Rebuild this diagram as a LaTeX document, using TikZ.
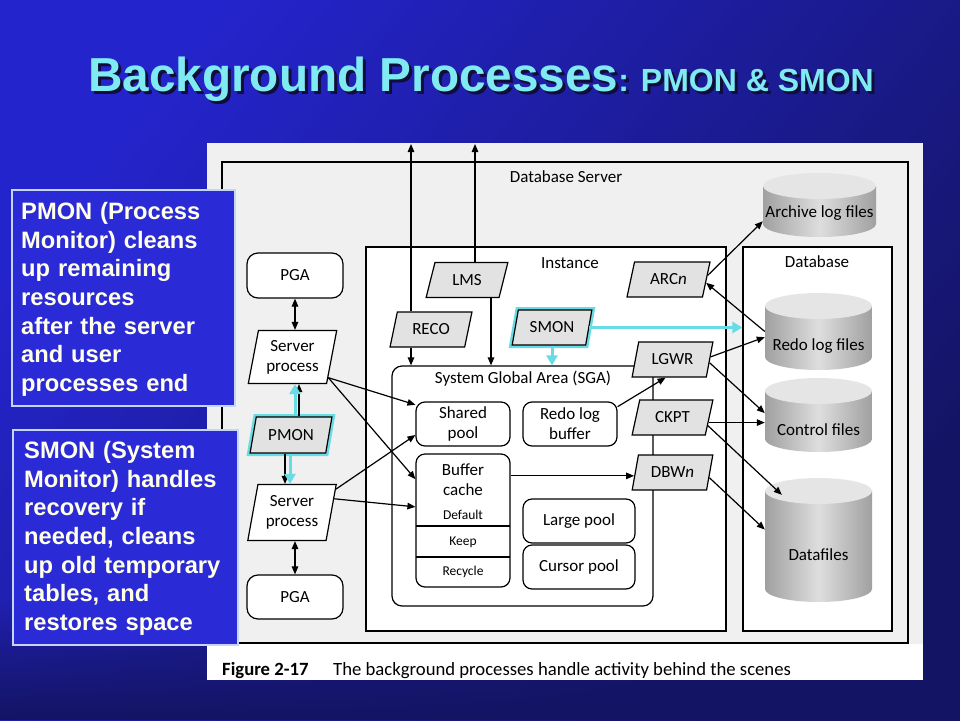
\documentclass[tikz,border=0pt]{standalone}
\usepackage{fontspec}
\setmainfont{Liberation Sans}
\newfontfamily\diag{Carlito}
\usetikzlibrary{shapes.geometric,arrows.meta,calc,fadings}
\definecolor{bgA}{RGB}{36,36,204}
\definecolor{bgB}{RGB}{20,20,100}
\definecolor{boxblue}{RGB}{42,42,214}
\definecolor{boxedge}{RGB}{196,212,250}
\definecolor{cream}{RGB}{255,255,232}
\definecolor{titlecyan}{RGB}{128,234,242}
\definecolor{tshadow}{RGB}{14,14,56}
\definecolor{hl}{RGB}{104,220,228}
\definecolor{panelgray}{RGB}{240,240,240}
\definecolor{procgray}{RGB}{226,226,226}
\definecolor{cylside}{RGB}{160,160,160}
\definecolor{cylmid}{RGB}{222,222,222}
\definecolor{cyltop}{RGB}{229,229,229}
\newcommand{\titletext}{Background Processes{\fontsize{32}{34}\selectfont: PMON \& SMON}}
\tikzset{
  ln/.style={line width=1.2pt, draw=black},
  arr/.style={ln, -{Triangle[length=8pt,width=6.5pt]}},
  dblarr/.style={ln, {Triangle[length=8pt,width=6.5pt]}-{Triangle[length=8pt,width=6.5pt]}},
  hlarr/.style={line width=3pt, draw=hl, -{Triangle[length=10pt,width=11pt]}},
  dfont/.style={font=\diag\fontsize{17}{20}\selectfont},
  proc/.style={trapezium, trapezium left angle=70, trapezium right angle=110, trapezium stretches=true, draw, line width=1.2pt, fill=procgray, minimum width=82pt, minimum height=35pt, inner sep=0pt, dfont},
  srv/.style={proc, fill=white, trapezium left angle=77, trapezium right angle=103, minimum width=89pt, minimum height=53pt, align=center},
  hlproc/.style={proc, preaction={draw=hl, line width=6pt}},
  mem/.style={rectangle, rounded corners=9pt, draw, line width=1.2pt, fill=white, dfont, align=center, inner sep=0pt, minimum width=94pt, minimum height=44pt},
  region/.style={rectangle, draw, line width=1.2pt, fill=white, inner sep=0pt},
  lbl/.style={dfont, inner sep=0pt, align=center},
  anch/.style={rectangle, inner sep=0pt, draw=none},
  infobox/.style={rectangle, draw=boxedge, line width=2pt, fill=boxblue, inner sep=0pt},
  infotext/.style={anchor=north west, inner sep=0pt, text=cream, text width=215pt, align=left, font=\bfseries\fontsize{23.7}{28.7}\selectfont},
  titlefont/.style={anchor=base west, inner sep=0pt, font=\bfseries\fontsize{47.7}{50}\selectfont},
}
\begin{document}
\begin{tikzpicture}[x=1pt,y=-1pt]
\useasboundingbox (0,0) rectangle (960,720);
% background
\shade[top color=bgA, bottom color=bgB, shading angle=50] (0,0) rectangle (960,720);
\fill[bgB, path fading=north] (0,600) rectangle (960,720);
% title with drop shadow (one node)
\node[titlefont, text=titlecyan] (title) at (88,91) {\rlap{\hspace{3pt}\raisebox{-3pt}{\color{tshadow}\titletext}}\titletext};
% panel
\fill[white] (207,143) rectangle (923,680);
\fill[panelgray] (207,143) rectangle (923,644);
\node[region, fill=panelgray, minimum width=686pt, minimum height=481pt] (srvbox) at (565,402.5) {};
\node[lbl] (srvlbl) at (566,177) {Database Server};
\node[region, minimum width=360pt, minimum height=384pt] (inst) at (546,439) {};
\node[lbl] (instlbl) at (570,263) {Instance};
\node[region, minimum width=149pt, minimum height=384pt] (dbx) at (817.5,439) {};
\node[lbl] (dblbl) at (817,262) {Database};
\node[region, rounded corners=10pt, minimum width=261pt, minimum height=240pt] (sga) at (522.5,486) {};
\node[lbl] (sgalbl) at (523,379) {System Global Area (SGA)};
% memory structures
\node[mem] (shp) at (463,424) {Shared\\pool};
\node[mem] (rlb) at (570,424) {Redo log\\buffer};
\node[mem, minimum height=133pt] (bc) at (463,520.5) {};
\draw[ln] (416,526) -- (510,526);
\draw[ln] (416,557) -- (510,557);
\node[lbl] (bct) at (463,480) {Buffer\\cache};
\node[lbl, font=\diag\fontsize{13.5}{15}\selectfont] (bcd) at (463,515) {Default};
\node[lbl, font=\diag\fontsize{13.5}{15}\selectfont] (bck) at (463,542) {Keep};
\node[lbl, font=\diag\fontsize{13.5}{15}\selectfont] (bcr) at (463,572) {Recycle};
\node[mem, minimum width=112pt] (lp) at (579,521) {Large pool};
\node[mem, minimum width=112pt] (cp) at (579,567) {Cursor pool};
% processes
\node[proc] (lms) at (467,280) {LMS};
\node[proc] (reco) at (431,329.5) {RECO};
\node[hlproc, minimum width=80pt] (smon) at (552,327.5) {SMON};
\node[proc, minimum width=83pt] (arcn) at (668.5,279.5) {ARC\textit{n}};
\node[proc, minimum width=81pt] (lgwr) at (672.5,359.5) {LGWR};
\node[proc, minimum width=81pt] (ckpt) at (672.5,417.5) {CKPT};
\node[proc, minimum width=81pt] (dbwn) at (672.5,472.5) {DBW\textit{n}};
\node[srv] (sp1) at (292.5,357) {Server\\process};
\node[srv, minimum height=56pt] (sp2) at (292,512.5) {Server\\process};
\node[hlproc, minimum width=82pt, minimum height=36pt] (pmon) at (291,435) {PMON};
\node[mem, minimum width=96pt, minimum height=45pt, rounded corners=11pt] (pga1) at (295,275.5) {PGA};
\node[mem, minimum width=96pt, minimum height=44pt, rounded corners=11pt] (pga2) at (295,597) {PGA};
% cylinders
\shade[left color=cylside, right color=cylside, middle color=cylmid] (763,186) -- (763,224) arc[start angle=180,end angle=360,x radius=56.5pt,y radius=13pt] -- (876,186) -- cycle;
\fill[cyltop] (819.5,186) ellipse[x radius=56.5pt,y radius=13pt];
\node[anch, minimum width=113pt, minimum height=64pt] (arch) at (819.5,205) {};
\node[lbl] (archt) at (819.5,213) {Archive log files};
\shade[left color=cylside, right color=cylside, middle color=cylmid] (765,306) -- (765,357) arc[start angle=180,end angle=360,x radius=53.5pt,y radius=13pt] -- (872,306) -- cycle;
\fill[cyltop] (818.5,306) ellipse[x radius=53.5pt,y radius=13pt];
\node[anch, minimum width=107pt, minimum height=77pt] (redo) at (818.5,331.5) {};
\node[lbl] (redot) at (818.5,346) {Redo log files};
\shade[left color=cylside, right color=cylside, middle color=cylmid] (765,391) -- (765,439) arc[start angle=180,end angle=360,x radius=53.5pt,y radius=13pt] -- (872,391) -- cycle;
\fill[cyltop] (818.5,391) ellipse[x radius=53.5pt,y radius=13pt];
\node[anch, minimum width=107pt, minimum height=74pt] (ctrl) at (818.5,415) {};
\node[lbl] (ctrlt) at (818.5,430) {Control files};
\shade[left color=cylside, right color=cylside, middle color=cylmid] (765,491) -- (765,589) arc[start angle=180,end angle=360,x radius=53.5pt,y radius=13pt] -- (872,491) -- cycle;
\fill[cyltop] (818.5,491) ellipse[x radius=53.5pt,y radius=13pt];
\node[anch, minimum width=107pt, minimum height=124pt] (data) at (818.5,540) {};
\node[lbl] (datat) at (818.5,555) {Datafiles};
% connectors
\coordinate (recotop) at (411,144);
\coordinate (lmstop) at (475,144);
\coordinate (lmsdown) at (491,366);
\draw[arr] (reco.north -| recotop) -- (recotop);
\draw[arr] (reco.south -| recotop) -- (recotop |- sga.north);
\draw[arr] (lms.north -| lmstop) -- (lmstop);
\draw[arr] (lms.south -| lmsdown) -- (lmsdown |- sga.north);
\draw[dblarr] (pga1.south) -- (pga1.south |- sp1.north);
\draw[dblarr] (pga2.north) -- (pga2.north |- sp2.south);
\draw[arr] (sp1.-30) -- (shp.158);
\draw[arr] (sp1.-30) -- (bc.139);
\draw[arr] (sp2.28) -- (shp.193);
\draw[arr] (sp2.18) -- (bc.164);
\draw[arr] (rlb.20) -- (lgwr.249);
\draw[arr] (bc.east |- dbwn.185) -- (dbwn.185);
\draw[arr] (arcn.6) -- (arch.196);
\draw[arr] (redo.west) -- (arcn.-5);
\draw[arr] (lgwr.4) -- (redo.186);
\draw[arr] (lgwr.-5) -- (ctrl.178);
\draw[arr] (ckpt.-8) -- (ckpt.-8 -| ctrl.west);
\draw[arr] (ckpt.-13) -- ($(data.north west)+(17,17)$);
\draw[arr] (dbwn.-8) -- (data.169);
% PMON / SMON arrows
\coordinate (pmbu) at ($(pmon.north)+(8,0)$);
\coordinate (pmcu) at ($(pmon.north)+(4,0)$);
\coordinate (pmbd) at ($(pmon.south)+(-6,0)$);
\coordinate (pmcd) at ($(pmon.south)+(-1,0)$);
\draw[arr] (pmbu) -- (pmbu |- sp1.south);
\draw[arr] (pmbd) -- (pmbd |- sp2.north);
\draw[hlarr] (pmcu) -- (pmcu |- sp1.south);
\draw[hlarr] (pmcd) -- (pmcd |- sp2.north);
\draw[hlarr] (smon.south) -- (smon.south |- sga.north);
\draw[hlarr] (smon.east) -- (smon.east -| dbx.west);
% caption
\node[anchor=base west, inner sep=0pt, font=\diag\bfseries\fontsize{18.7}{20}\selectfont] (figno) at (222,675) {Figure 2-17};
\node[anchor=base west, inner sep=0pt, font=\diag\fontsize{18.7}{20}\selectfont] (figcap) at (333,675) {The background processes handle activity behind the scenes};
% info boxes
\node[infobox, minimum width=223pt, minimum height=216pt] (pmonbox) at (123.5,298) {};
\node[infotext] (pmontext) at (21,202) {PMON (Process\\Monitor) cleans\\up remaining\\resources\\after the server\\and user\\processes end};
\node[infobox, minimum width=225pt, minimum height=215pt] (smonbox) at (125.5,537.5) {};
\node[infotext] (smontext) at (24,441) {SMON (System\\Monitor) handles\\recovery if\\needed, cleans\\up old temporary\\tables, and\\restores space};
\end{tikzpicture}
\end{document}
